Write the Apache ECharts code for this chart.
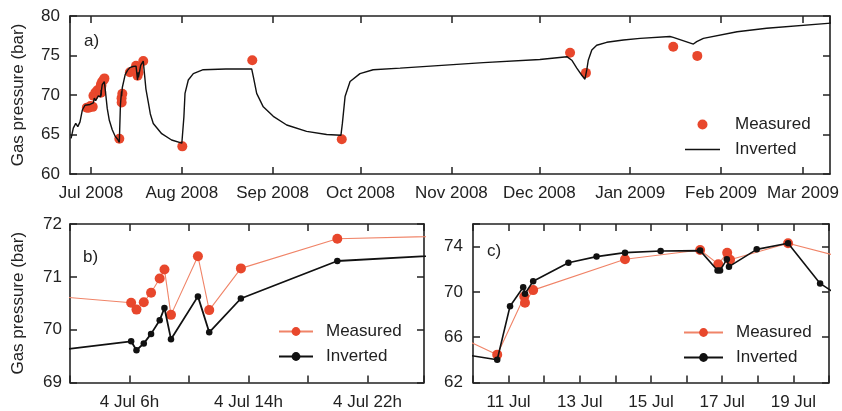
<!DOCTYPE html>
<html>
<head>
<meta charset="utf-8">
<script src="https://cdn.jsdelivr.net/npm/echarts@6/dist/echarts.min.js"></script>
<style>
html,body{margin:0;padding:0;background:#fff;}
#chart{width:842px;height:411px;}
</style>
</head>
<body>
<div id="chart"></div>
<script>
// ---------- Panel a) : full record ----------
const measuredA = [
  ['2008-06-29 14:00', 68.4], ['2008-06-30 06:00', 68.4], ['2008-06-30 20:00', 68.6],
  ['2008-07-01 14:00', 68.5], ['2008-07-01 20:00', 69.9], ['2008-07-02 12:00', 70.3],
  ['2008-07-03 04:00', 70.6],
  ['2008-07-04 06:07', 70.51], ['2008-07-04 06:28', 70.38], ['2008-07-04 06:58', 70.52],
  ['2008-07-04 07:27', 70.70], ['2008-07-04 08:02', 70.97], ['2008-07-04 08:21', 71.14],
  ['2008-07-04 08:47', 70.28], ['2008-07-04 10:36', 71.39], ['2008-07-04 11:22', 70.37],
  ['2008-07-04 13:29', 71.16], ['2008-07-04 19:58', 71.72],
  ['2008-07-05 08:00', 71.9], ['2008-07-05 14:00', 72.1],
  ['2008-07-10 16:00', 64.46], ['2008-07-11 10:30', 69.6], ['2008-07-11 11:00', 69.04],
  ['2008-07-11 16:30', 70.16], ['2008-07-14 06:30', 72.88], ['2008-07-16 09:00', 73.7],
  ['2008-07-16 21:20', 72.45], ['2008-07-17 03:20', 73.45], ['2008-07-17 05:20', 72.85],
  ['2008-07-18 20:00', 74.3],
  ['2008-08-01 04:00', 63.5], ['2008-08-25 01:00', 74.4], ['2008-09-24 14:00', 64.4],
  ['2008-12-11 12:00', 75.35], ['2008-12-16 22:00', 72.8],
  ['2009-01-15 17:00', 76.1], ['2009-01-23 22:00', 74.95]
];
const invertedA = [
  ['2008-06-24 05:00', 64.5], ['2008-06-24 23:00', 65.8], ['2008-06-25 19:00', 66.4],
  ['2008-06-26 12:00', 66.0], ['2008-06-27 06:00', 66.6], ['2008-06-28 01:00', 68.1],
  ['2008-06-28 23:00', 68.7], ['2008-06-30 16:00', 68.8], ['2008-07-01 19:00', 69.0],
  ['2008-07-02 03:00', 69.6], ['2008-07-02 14:00', 69.3], ['2008-07-03 12:00', 69.9],
  ['2008-07-04 06:07', 69.78], ['2008-07-04 06:28', 69.61], ['2008-07-04 06:58', 69.74],
  ['2008-07-04 07:27', 69.92], ['2008-07-04 08:02', 70.18], ['2008-07-04 08:21', 70.41],
  ['2008-07-04 08:47', 69.82], ['2008-07-04 10:36', 70.63], ['2008-07-04 11:22', 69.95],
  ['2008-07-04 13:29', 70.59], ['2008-07-04 19:58', 71.30],
  ['2008-07-05 13:00', 71.7], ['2008-07-06 00:00', 70.2], ['2008-07-06 13:00', 68.3],
  ['2008-07-07 06:00', 66.8], ['2008-07-08 06:00', 65.6], ['2008-07-09 05:00', 64.8],
  ['2008-07-10 02:00', 64.4], ['2008-07-10 16:00', 64.01], ['2008-07-11 01:00', 68.74],
  ['2008-07-11 10:00', 70.42], ['2008-07-11 11:00', 69.84], ['2008-07-11 16:30', 70.95],
  ['2008-07-12 16:00', 72.58], ['2008-07-13 11:00', 73.12], ['2008-07-14 06:30', 73.47],
  ['2008-07-15 06:30', 73.61], ['2008-07-16 09:00', 73.65], ['2008-07-16 21:00', 71.9],
  ['2008-07-16 22:30', 71.9], ['2008-07-17 03:00', 72.88], ['2008-07-17 04:30', 72.23],
  ['2008-07-17 23:00', 73.76], ['2008-07-18 20:00', 74.3], ['2008-07-19 18:00', 70.75],
  ['2008-07-20 12:00', 69.2], ['2008-07-21 06:00', 67.6], ['2008-07-22 06:00', 66.4],
  ['2008-07-25 03:00', 65.1], ['2008-07-28 12:00', 64.3], ['2008-08-01 00:00', 63.9],
  ['2008-08-01 12:00', 63.9], ['2008-08-01 17:00', 67.25], ['2008-08-02 02:00', 70.2],
  ['2008-08-03 05:00', 71.9], ['2008-08-04 22:00', 72.7], ['2008-08-08 07:00', 73.2],
  ['2008-08-16 00:00', 73.3], ['2008-08-24 20:00', 73.3], ['2008-08-25 10:00', 72.3],
  ['2008-08-26 13:00', 70.2], ['2008-08-28 19:00', 68.5], ['2008-09-01 05:00', 67.3],
  ['2008-09-05 19:00', 66.2], ['2008-09-12 14:00', 65.4], ['2008-09-19 10:00', 65.0],
  ['2008-09-24 07:00', 64.9], ['2008-09-24 19:00', 66.4], ['2008-09-25 17:00', 69.8],
  ['2008-09-27 10:00', 71.7], ['2008-09-30 19:00', 72.7], ['2008-10-05 07:00', 73.2],
  ['2008-10-14 12:00', 73.4], ['2008-11-11 22:00', 74.1], ['2008-12-01 05:00', 74.5],
  ['2008-12-10 10:00', 74.85], ['2008-12-12 02:00', 74.4], ['2008-12-13 19:00', 73.4],
  ['2008-12-15 12:00', 72.5], ['2008-12-16 14:00', 72.0], ['2008-12-17 05:00', 73.2],
  ['2008-12-17 17:00', 74.4], ['2008-12-18 22:00', 75.7], ['2008-12-20 14:00', 76.3],
  ['2008-12-24 00:00', 76.67], ['2008-12-29 17:00', 76.96], ['2009-01-04 10:00', 77.17],
  ['2009-01-14 14:00', 77.4], ['2009-01-15 17:00', 77.3], ['2009-01-22 14:00', 76.45],
  ['2009-01-23 17:00', 76.75], ['2009-01-26 00:00', 77.17], ['2009-02-06 12:00', 78.0],
  ['2009-02-16 14:00', 78.45], ['2009-03-10 12:00', 79.1]
];
const monthNames = ['Jan','Feb','Mar','Apr','May','Jun','Jul','Aug','Sep','Oct','Nov','Dec'];

// ---------- Panel b) : 4 July (hours) ----------
const hoursB     = [-6, 6.11, 6.47, 6.96, 7.45, 8.03, 8.35, 8.79, 10.60, 11.36, 13.49, 19.97, 36];
const measuredB  = [70.80, 70.51, 70.38, 70.52, 70.70, 70.97, 71.14, 70.28, 71.39, 70.37, 71.16, 71.72, 71.83];
const invertedB  = [69.36, 69.78, 69.61, 69.74, 69.92, 70.18, 70.41, 69.82, 70.63, 69.95, 70.59, 71.30, 71.55];
const tickHoursB  = [6, 14, 22];
const tickLabelsB = ['4 Jul 6h', '4 Jul 14h', '4 Jul 22h'];

// ---------- Panel c) : 10-20 July (day of month) ----------
const measuredDaysC = [5.5, 10.68, 11.44, 11.46, 11.69, 14.27, 16.38, 16.89, 17.14, 17.22, 18.85, 32.05];
const measuredC     = [72.1, 64.46, 69.6, 69.04, 70.16, 72.88, 73.7, 72.45, 73.45, 72.85, 74.3, 63.5];
const invertedDaysC = [9.08, 10.68, 11.04, 11.41, 11.46, 11.69, 12.68, 13.47, 14.27, 15.27, 16.38, 16.87, 16.94, 17.13, 17.19, 17.97, 18.85, 19.75, 20.5];
const invertedC     = [64.8, 64.01, 68.74, 70.42, 69.84, 70.95, 72.58, 73.12, 73.47, 73.61, 73.65, 71.9, 71.9, 72.88, 72.23, 73.76, 74.3, 70.75, 69.2];
const tickDaysC = [11, 13, 15, 17, 19];

// ---------- styling ----------
const RED = '#E8472C';
const RED_LINE = '#F08468';
const INK = '#222';
const FONT = 'Liberation Sans, Arial, Helvetica, sans-serif';
const FS = 17;

function zip(xs, ys) { return xs.map((x, i) => [x, ys[i]]); }

function frameAxis(extra) {
  return Object.assign({
    axisLine: { show: true, lineStyle: { color: INK, width: 1.6 } },
    axisTick: { show: true, inside: true, length: 7, lineStyle: { color: INK, width: 1.5 } },
    splitLine: { show: false },
    axisLabel: { color: INK, fontSize: FS, fontFamily: FONT }
  }, extra);
}
function noLabel() { return { show: false }; }

const DAY = 86400000;
const tMin = '2008-06-23 20:00';
const tMax = '2009-03-10 05:00';

function monthLabel(v) {
  const d = new Date(v);
  if (d.getDate() === 1 && d.getHours() === 0 && d.getMinutes() === 0) {
    return monthNames[d.getMonth()] + ' ' + d.getFullYear();
  }
  return '';
}

const lineIcon = 'path://M0,0 L35,0 L35,1.5 L0,1.5 Z';
const titleStyle = { fontSize: FS, fontWeight: 'normal', color: INK, fontFamily: FONT };

const chart = echarts.init(document.getElementById('chart'));
chart.setOption({
  animation: false,
  backgroundColor: '#fff',
  textStyle: { fontFamily: FONT },
  title: [
    { text: 'a)', left: 84, top: 33, padding: 0, textStyle: titleStyle },
    { text: 'b)', left: 83, top: 249, padding: 0, textStyle: titleStyle },
    { text: 'c)', left: 487, top: 243, padding: 0, textStyle: titleStyle }
  ],
  grid: [
    { left: 70, top: 16, width: 760, height: 158 },
    { left: 70, top: 224, width: 354, height: 158.5 },
    { left: 473, top: 224, width: 356, height: 158.5 }
  ],
  xAxis: [
    frameAxis({ type: 'time', gridIndex: 0, min: tMin, max: tMax,
      minInterval: 28 * DAY, maxInterval: 31 * DAY,
      axisLabel: { color: INK, fontSize: FS, fontFamily: FONT, margin: 11, formatter: monthLabel } }),
    frameAxis({ type: 'time', gridIndex: 0, position: 'top', min: tMin, max: tMax,
      minInterval: 28 * DAY, maxInterval: 31 * DAY, axisLabel: noLabel() }),
    frameAxis({ type: 'value', gridIndex: 1, min: 2, max: 25.8, interval: 4,
      axisLabel: { color: INK, fontSize: FS, fontFamily: FONT, margin: 11,
        formatter: v => { const i = tickHoursB.indexOf(Math.round(v * 100) / 100); return i >= 0 ? tickLabelsB[i] : ''; } } }),
    frameAxis({ type: 'value', gridIndex: 1, position: 'top', min: 2, max: 25.8, interval: 4, axisLabel: noLabel() }),
    frameAxis({ type: 'value', gridIndex: 2, min: 10, max: 20, interval: 1,
      axisLabel: { color: INK, fontSize: FS, fontFamily: FONT, margin: 11,
        formatter: v => tickDaysC.indexOf(Math.round(v)) >= 0 && Math.abs(v - Math.round(v)) < 1e-6 ? Math.round(v) + ' Jul' : '' } }),
    frameAxis({ type: 'value', gridIndex: 2, position: 'top', min: 10, max: 20, interval: 1, axisLabel: noLabel() })
  ],
  yAxis: [
    frameAxis({ type: 'value', gridIndex: 0, min: 60, max: 80, interval: 5,
      name: 'Gas pressure (bar)', nameLocation: 'middle', nameGap: 43,
      nameTextStyle: { color: INK, fontSize: FS, fontFamily: FONT },
      axisLabel: { color: INK, fontSize: FS, fontFamily: FONT, margin: 10 } }),
    frameAxis({ type: 'value', gridIndex: 0, position: 'right', min: 60, max: 80, interval: 5, axisLabel: noLabel() }),
    frameAxis({ type: 'value', gridIndex: 1, min: 69, max: 72, interval: 1,
      name: 'Gas pressure (bar)', nameLocation: 'middle', nameGap: 43,
      nameTextStyle: { color: INK, fontSize: FS, fontFamily: FONT },
      axisLabel: { color: INK, fontSize: FS, fontFamily: FONT, margin: 8 } }),
    frameAxis({ type: 'value', gridIndex: 1, position: 'right', min: 69, max: 72, interval: 1, axisLabel: noLabel() }),
    frameAxis({ type: 'value', gridIndex: 2, min: 62, max: 76, interval: 4,
      axisLabel: { color: INK, fontSize: FS, fontFamily: FONT, margin: 10,
        formatter: v => v > 75 ? '' : String(v) } }),
    frameAxis({ type: 'value', gridIndex: 2, position: 'right', min: 62, max: 76, interval: 4, axisLabel: noLabel() })
  ],
  legend: [
    { data: ['a-Measured', { name: 'a-Inverted', icon: lineIcon }], orient: 'vertical', left: 685, top: 116, padding: 0,
      itemWidth: 35, itemHeight: 10, itemGap: 8, selectedMode: false,
      formatter: n => n.slice(2),
      textStyle: { color: INK, fontSize: FS, fontFamily: FONT, padding: [0, 0, 0, 10] } },
    { data: ['b-Measured', 'b-Inverted'], orient: 'vertical', left: 278, top: 323, padding: 0,
      itemWidth: 34, itemHeight: 11, itemGap: 8, selectedMode: false,
      formatter: n => n.slice(2),
      textStyle: { color: INK, fontSize: FS, fontFamily: FONT, padding: [0, 0, 0, 8] } },
    { data: ['c-Measured', 'c-Inverted'], orient: 'vertical', left: 683, top: 324, padding: 0,
      itemWidth: 39, itemHeight: 11, itemGap: 8, selectedMode: false,
      formatter: n => n.slice(2),
      textStyle: { color: INK, fontSize: FS, fontFamily: FONT, padding: [0, 0, 0, 8] } }
  ],
  series: [
    { name: 'a-Measured', type: 'scatter', xAxisIndex: 0, yAxisIndex: 0, data: measuredA,
      symbol: 'circle', symbolSize: 10, itemStyle: { color: RED, opacity: 1 }, z: 2 },
    { name: 'a-Inverted', type: 'line', xAxisIndex: 0, yAxisIndex: 0, data: invertedA,
      symbol: 'none', showSymbol: false, lineStyle: { color: '#111', width: 1.4 }, itemStyle: { color: '#111' }, z: 3 },
    { name: 'b-Measured', type: 'line', xAxisIndex: 2, yAxisIndex: 2, data: zip(hoursB, measuredB),
      symbol: 'circle', symbolSize: 10, showSymbol: true,
      lineStyle: { color: RED_LINE, width: 1.1 }, itemStyle: { color: RED, borderWidth: 0 }, z: 2 },
    { name: 'b-Inverted', type: 'line', xAxisIndex: 2, yAxisIndex: 2, data: zip(hoursB, invertedB),
      symbol: 'circle', symbolSize: 6.5, showSymbol: true,
      lineStyle: { color: '#111', width: 1.8 }, itemStyle: { color: '#111', borderWidth: 0 }, z: 3 },
    { name: 'c-Measured', type: 'line', xAxisIndex: 4, yAxisIndex: 4, data: zip(measuredDaysC, measuredC),
      symbol: 'circle', symbolSize: 10, showSymbol: true,
      lineStyle: { color: RED_LINE, width: 1.1 }, itemStyle: { color: RED, borderWidth: 0 }, z: 2 },
    { name: 'c-Inverted', type: 'line', xAxisIndex: 4, yAxisIndex: 4, data: zip(invertedDaysC, invertedC),
      symbol: 'circle', symbolSize: 6.5, showSymbol: true,
      lineStyle: { color: '#111', width: 1.6 }, itemStyle: { color: '#111', borderWidth: 0 }, z: 3 }
  ]
});
</script>
</body>
</html>
